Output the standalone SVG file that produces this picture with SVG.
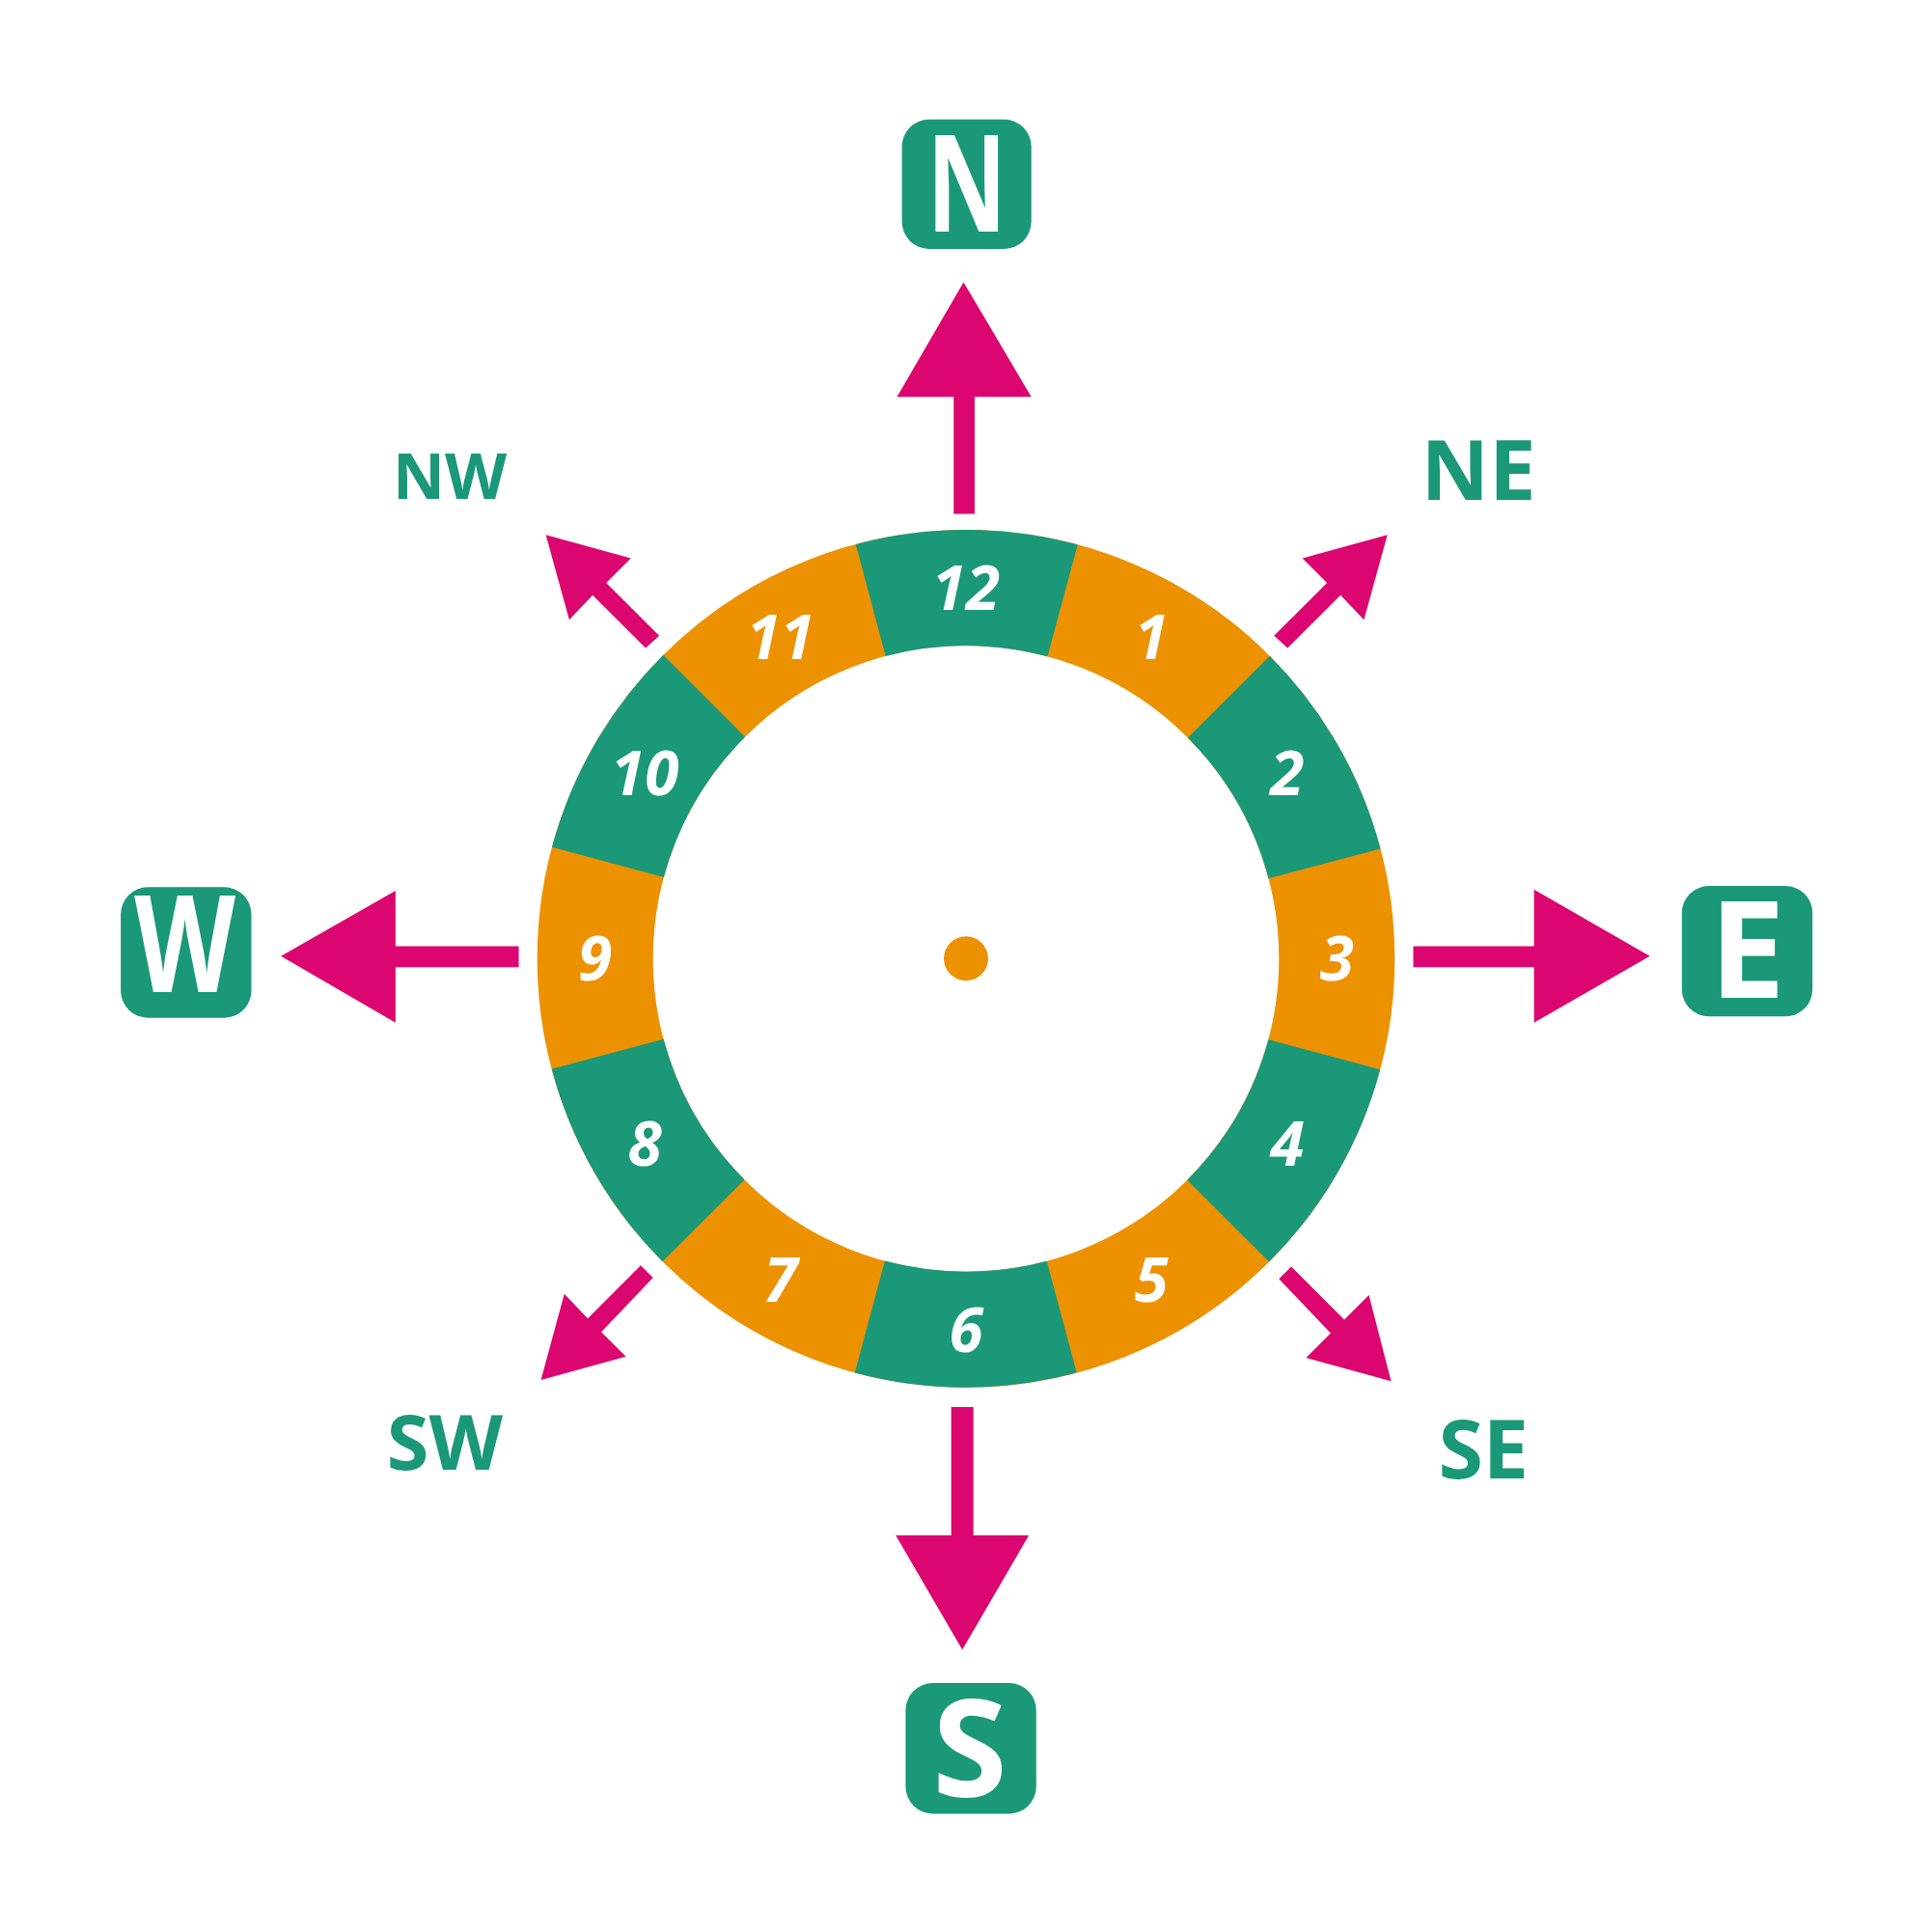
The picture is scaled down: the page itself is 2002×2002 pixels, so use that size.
<svg xmlns="http://www.w3.org/2000/svg" width="2002" height="2002" viewBox="0 0 2002 2002">
<style>
.num{font-family:"Open Sans","Liberation Sans",sans-serif;font-weight:700;font-style:italic;font-size:50px;fill:#fff;text-anchor:middle}
.box{fill:#1A9878}
.big{font-family:"Open Sans","Liberation Sans",sans-serif;font-weight:700;font-size:110px;fill:#fff;text-anchor:middle}
.lbl{font-family:"Open Sans","Liberation Sans",sans-serif;font-weight:700;fill:#1A9878;text-anchor:middle}
.arr{fill:#DB0670}
</style>
<rect width="2002" height="2002" fill="#fff"/>
<g transform="scale(1.27679)">
<g id="ring">
<circle cx="784" cy="778" r="301" fill="none" stroke="#EC9100" stroke-width="94"/>
<circle cx="784" cy="778" r="301" fill="none" stroke="#1A9878" stroke-width="94" stroke-dasharray="157.6 157.6" stroke-dashoffset="-78.8"/>
<circle cx="784" cy="778" r="18" fill="#EC9100"/>
<text class="num" x="934.5" y="517.3" dy=".36em">1</text>
<text class="num" x="1044.7" y="627.5" dy=".36em">2</text>
<text class="num" x="1085" y="778" dy=".36em">3</text>
<text class="num" x="1044.7" y="928.5" dy=".36em">4</text>
<text class="num" x="934.5" y="1038.7" dy=".36em">5</text>
<text class="num" x="784" y="1079" dy=".36em">6</text>
<text class="num" x="633.5" y="1038.7" dy=".36em">7</text>
<text class="num" x="523.3" y="928.5" dy=".36em">8</text>
<text class="num" x="483" y="778" dy=".36em">9</text>
<text class="num" x="523.3" y="627.5" dy=".36em">10</text>
<text class="num" x="633.5" y="517.3" dy=".36em">11</text>
<text class="num" x="784" y="477" dy=".36em">12</text>
</g>
<g id="connectors">
<polygon class="arr" points="774,417 791,417 791,322 837,322 782,229 728,322 774,322"/>
<polygon class="arr" points="772,1142 790,1142 790,1246 835,1246 781,1339 727,1246 772,1246"/>
<polygon class="arr" points="1147,768 1147,785 1245,785 1245,830 1339,776 1245,722 1245,768"/>
<polygon class="arr" points="421,768 421,785 321,785 321,830 228,776 321,723 321,768"/>
<polygon class="arr" points="1034,516 1045,526 1088,483 1107,503 1126,434 1057,453 1077,473"/>
<polygon class="arr" points="535,516 524,526 481,483 462,503 443,434 512,453 492,473"/>
<polygon class="arr" points="1038,1038 1048,1028 1091,1071 1111,1051 1129,1121 1060,1102 1080,1082"/>
<polygon class="arr" points="530,1037 520,1027 477,1070 458,1050 439,1120 508,1101 488,1081"/>
</g>
<g id="N"><rect class="box" x="732" y="97" width="105" height="105" rx="22"/><text class="big" x="784.5" y="188" textLength="65" lengthAdjust="spacingAndGlyphs">N</text></g>
<g id="S"><rect class="box" x="735" y="1366" width="106" height="106" rx="22"/><text class="big" x="787" y="1458">S</text></g>
<g id="E"><rect class="box" x="1365" y="719" width="106" height="106" rx="22"/><text class="big" x="1418" y="810">E</text></g>
<g id="W"><rect class="box" x="98" y="720" width="106" height="106" rx="22"/><text class="big" x="150" y="805" textLength="82" lengthAdjust="spacingAndGlyphs">W</text></g>
<g id="NE"><text class="lbl" x="1200" y="406" font-size="68">NE</text></g>
<g id="NW"><text class="lbl" x="365" y="405" font-size="52">NW</text></g>
<g id="SE"><text class="lbl" x="1204" y="1200" font-size="66">SE</text></g>
<g id="SW"><text class="lbl" x="361" y="1193" font-size="62">SW</text></g>
</g>
</svg>
